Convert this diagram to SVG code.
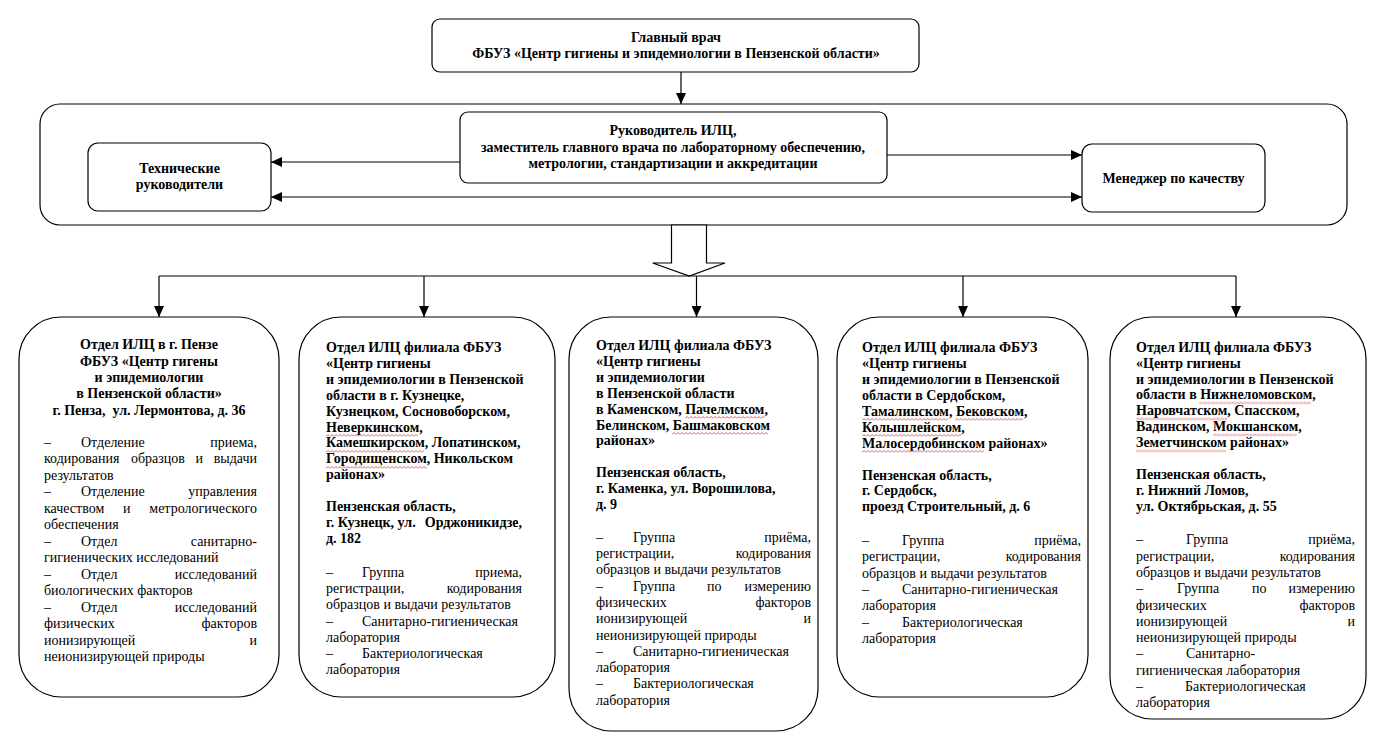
<svg xmlns="http://www.w3.org/2000/svg" width="1382" height="746" viewBox="0 0 1382 746">
<style>
.t{font-family:"Liberation Serif","Times New Roman",serif;font-size:14px;fill:#000}
.b{font-weight:bold}
.c{text-anchor:middle}
.e{text-anchor:end}
.box{fill:#fff;stroke:#000;stroke-width:1.2}
.ln{fill:none;stroke:#000;stroke-width:1.2}
.arr{marker-end:url(#ah)}
.bi{marker-start:url(#ah);marker-end:url(#ah)}
.sq{fill:url(#wv)}
</style>
<defs>
<marker id="ah" viewBox="0 0 11 10" refX="11" refY="5" markerWidth="11" markerHeight="10" markerUnits="userSpaceOnUse" orient="auto-start-reverse"><path d="M0,0 L11,5 L0,10 z" fill="#000"/></marker>
<pattern id="wv" width="4" height="3" patternUnits="userSpaceOnUse"><path d="M0,2.5 L2,0.5 L4,2.5" fill="none" stroke="#d23030" stroke-width="0.8"/></pattern>
</defs>
<rect width="1382" height="746" fill="#fff"/>

<g id="container">
<rect class="box" x="40" y="104" width="1307" height="121" rx="20"/>
</g>

<g id="connectors">
<path class="ln arr" d="M681,72 L681,104"/>
<path class="ln arr" d="M460,162 L271,162"/>
<path class="ln arr" d="M887,155 L1082,155"/>
<path class="ln bi" d="M271,197 L1082,197"/>
<polygon class="box" points="671.5,225 706.5,225 706.5,263 725,263 689.3,276 652.7,263 671.5,263"/>
<path class="ln" d="M159,276 L1236,276"/>
<path class="ln arr" d="M159,276 L159,317"/>
<path class="ln arr" d="M424,276 L424,317"/>
<path class="ln arr" d="M696.5,276 L696.5,317"/>
<path class="ln arr" d="M963,276 L963,317"/>
<path class="ln arr" d="M1236,276 L1236,317"/>
</g>

<g id="glavvrach">
<rect class="box" x="432" y="19" width="487" height="53" rx="8"/>
<text class="t b c" x="676" y="42">Главный врач</text>
<text class="t b c" x="676" y="58">ФБУЗ «Центр гигиены и эпидемиологии в Пензенской области»</text>
</g>

<g id="rukovoditel">
<rect class="box" x="460" y="112" width="427" height="71" rx="8"/>
<text class="t b c" x="673" y="135">Руководитель ИЛЦ,</text>
<text class="t b c" x="673" y="152">заместитель главного врача по лабораторному обеспечению,</text>
<text class="t b c" x="673" y="168">метрологии, стандартизации и аккредитации</text>
</g>

<g id="tech">
<rect class="box" x="88" y="143" width="183" height="68" rx="10"/>
<text class="t b c" x="179.5" y="173">Технические</text>
<text class="t b c" x="179.5" y="189">руководители</text>
</g>

<g id="manager">
<rect class="box" x="1082" y="144" width="183" height="68" rx="10"/>
<text class="t b c" x="1173.5" y="183">Менеджер по качеству</text>
</g>

<g id="otdel-penza">
<rect class="box" x="19" y="317" width="260" height="380" rx="42"/>
<text class="t b c" x="149" y="349">Отдел ИЛЦ в г. Пензе</text>
<text class="t b c" x="149" y="365.5">ФБУЗ «Центр гигены</text>
<text class="t b c" x="149" y="382">и эпидемиологии</text>
<text class="t b c" x="149" y="398">в Пензенской области»</text>
<text class="t b c" x="149" y="414.5" xml:space="preserve">г. Пенза,  ул. Лермонтова, д. 36</text>
<text class="t"><tspan x="44" y="446.5">–</tspan><tspan x="81" y="446.5">Отделение</tspan><tspan class="e" x="257" y="446.5">приема,</tspan></text>
<text class="t"><tspan x="44" y="463">кодирования</tspan><tspan x="131" y="463">образцов</tspan><tspan x="195.5" y="463">и</tspan><tspan class="e" x="257" y="463">выдачи</tspan></text>
<text class="t" x="44" y="479.5">результатов</text>
<text class="t"><tspan x="44" y="496">–</tspan><tspan x="81" y="496">Отделение</tspan><tspan class="e" x="257" y="496">управления</tspan></text>
<text class="t"><tspan x="44" y="512.5">качеством</tspan><tspan x="123" y="512.5">и</tspan><tspan class="e" x="257" y="512.5">метрологического</tspan></text>
<text class="t" x="44" y="529">обеспечения</text>
<text class="t"><tspan x="44" y="545.5">–</tspan><tspan x="81" y="545.5">Отдел</tspan><tspan class="e" x="257" y="545.5">санитарно-</tspan></text>
<text class="t" x="44" y="562">гигиенических исследований</text>
<text class="t"><tspan x="44" y="578.5">–</tspan><tspan x="81" y="578.5">Отдел</tspan><tspan class="e" x="257" y="578.5">исследований</tspan></text>
<text class="t" x="44" y="595">биологических факторов</text>
<text class="t"><tspan x="44" y="611.5">–</tspan><tspan x="81" y="611.5">Отдел</tspan><tspan class="e" x="257" y="611.5">исследований</tspan></text>
<text class="t"><tspan x="44" y="628">физических</tspan><tspan class="e" x="257" y="628">факторов</tspan></text>
<text class="t"><tspan x="44" y="644.6">ионизирующей</tspan><tspan class="e" x="257" y="644.6">и</tspan></text>
<text class="t" x="44" y="661.2">неионизирующей природы</text>
</g>

<g id="otdel-kuzneck">
<rect class="box" x="299" y="317" width="256" height="380" rx="42"/>
<text class="t b" x="326" y="352">Отдел ИЛЦ филиала ФБУЗ</text>
<text class="t b" x="326" y="367.9">«Центр гигиены</text>
<text class="t b" x="326" y="383.8">и эпидемиологии в Пензенской</text>
<text class="t b" x="326" y="399.7">области в г. Кузнецке,</text>
<text class="t b" x="326" y="415.6">Кузнецком, Сосновоборском,</text>
<text class="t b" x="326" y="431.5">Неверкинском,</text>
<text class="t b" x="326" y="447.4">Камешкирском, Лопатинском,</text>
<text class="t b" x="326" y="463.3">Городищенском, Никольском</text>
<text class="t b" x="326" y="479.2">районах»</text>
<text class="t b" x="326" y="511">Пензенская область,</text>
<text class="t b"><tspan x="326" y="526.9">г. Кузнецк, ул.</tspan><tspan class="e" x="522" y="526.9">Орджоникидзе,</tspan></text>
<text class="t b" x="326" y="542.8">д. 182</text>
<g transform="translate(326,434)"><rect class="sq" width="92" height="3"/></g>
<g transform="translate(326,450)"><rect class="sq" width="98" height="3"/></g>
<g transform="translate(326,466)"><rect class="sq" width="101" height="3"/></g>
<text class="t"><tspan x="326" y="577">–</tspan><tspan x="362" y="577">Группа</tspan><tspan class="e" x="522" y="577">приема,</tspan></text>
<text class="t"><tspan x="326" y="593.2">регистрации,</tspan><tspan class="e" x="522" y="593.2">кодирования</tspan></text>
<text class="t" x="326" y="609.4">образцов и выдачи результатов</text>
<text class="t"><tspan x="326" y="625.6">–</tspan><tspan x="362" y="625.6">Санитарно-гигиеническая</tspan></text>
<text class="t" x="326" y="641.8">лаборатория</text>
<text class="t"><tspan x="326" y="658">–</tspan><tspan x="362" y="658">Бактериологическая</tspan></text>
<text class="t" x="326" y="674.2">лаборатория</text>
</g>

<g id="otdel-kamenka">
<rect class="box" x="569" y="317" width="249" height="414" rx="42"/>
<text class="t b" x="596" y="350">Отдел ИЛЦ филиала ФБУЗ</text>
<text class="t b" x="596" y="365.9">«Центр гигиены</text>
<text class="t b" x="596" y="381.8">и эпидемиологии</text>
<text class="t b" x="596" y="397.7">в Пензенской области</text>
<text class="t b" x="596" y="413.6">в Каменском, Пачелмском,</text>
<text class="t b" x="596" y="429.5">Белинском, Башмаковском</text>
<text class="t b" x="596" y="445.4">районах»</text>
<text class="t b" x="596" y="477.2">Пензенская область,</text>
<text class="t b" x="596" y="493.1">г. Каменка, ул. Ворошилова,</text>
<text class="t b" x="596" y="509">д. 9</text>
<g transform="translate(685,416)"><rect class="sq" width="79" height="3"/></g>
<g transform="translate(672,432)"><rect class="sq" width="96" height="3"/></g>
<text class="t"><tspan x="596" y="541.7">–</tspan><tspan x="633" y="541.7">Группа</tspan><tspan class="e" x="811" y="541.7">приёма,</tspan></text>
<text class="t"><tspan x="596" y="558">регистрации,</tspan><tspan class="e" x="811" y="558">кодирования</tspan></text>
<text class="t" x="596" y="574.3">образцов и выдачи результатов</text>
<text class="t"><tspan x="596" y="590.6">–</tspan><tspan x="633" y="590.6">Группа</tspan><tspan x="707" y="590.6">по</tspan><tspan class="e" x="811" y="590.6">измерению</tspan></text>
<text class="t"><tspan x="596" y="606.9">физических</tspan><tspan class="e" x="811" y="606.9">факторов</tspan></text>
<text class="t"><tspan x="596" y="623.2">ионизирующей</tspan><tspan class="e" x="811" y="623.2">и</tspan></text>
<text class="t" x="596" y="639.5">неионизирующей природы</text>
<text class="t"><tspan x="596" y="655.8">–</tspan><tspan x="633" y="655.8">Санитарно-гигиеническая</tspan></text>
<text class="t" x="596" y="672.1">лаборатория</text>
<text class="t"><tspan x="596" y="688.4">–</tspan><tspan x="633" y="688.4">Бактериологическая</tspan></text>
<text class="t" x="596" y="704.7">лаборатория</text>
</g>

<g id="otdel-serdobsk">
<rect class="box" x="837" y="317" width="251" height="380" rx="42"/>
<text class="t b" x="862" y="352.3">Отдел ИЛЦ филиала ФБУЗ</text>
<text class="t b" x="862" y="368.2">«Центр гигиены</text>
<text class="t b" x="862" y="384.1">и эпидемиологии в Пензенской</text>
<text class="t b" x="862" y="400">области в Сердобском,</text>
<text class="t b" x="862" y="415.9">Тамалинском, Бековском,</text>
<text class="t b" x="862" y="431.8">Колышлейском,</text>
<text class="t b" x="862" y="447.7">Малосердобинском районах»</text>
<text class="t b" x="862" y="479.5">Пензенская область,</text>
<text class="t b" x="862" y="495.4">г. Сердобск,</text>
<text class="t b" x="862" y="511.3">проезд Строительный, д. 6</text>
<g transform="translate(862,418)"><rect class="sq" width="86" height="3"/></g>
<g transform="translate(955,418)"><rect class="sq" width="68" height="3"/></g>
<g transform="translate(862,434)"><rect class="sq" width="99" height="3"/></g>
<g transform="translate(862,450)"><rect class="sq" width="122" height="3"/></g>
<text class="t"><tspan x="862" y="545">–</tspan><tspan x="902" y="545">Группа</tspan><tspan class="e" x="1081" y="545">приёма,</tspan></text>
<text class="t"><tspan x="862" y="561.3">регистрации,</tspan><tspan class="e" x="1081" y="561.3">кодирования</tspan></text>
<text class="t" x="862" y="577.6">образцов и выдачи результатов</text>
<text class="t"><tspan x="862" y="593.9">–</tspan><tspan x="902" y="593.9">Санитарно-гигиеническая</tspan></text>
<text class="t" x="862" y="610.2">лаборатория</text>
<text class="t"><tspan x="862" y="626.5">–</tspan><tspan x="902" y="626.5">Бактериологическая</tspan></text>
<text class="t" x="862" y="642.8">лаборатория</text>
</g>

<g id="otdel-nlomov">
<rect class="box" x="1110" y="317" width="256" height="402" rx="42"/>
<text class="t b" x="1136" y="351.7">Отдел ИЛЦ филиала ФБУЗ</text>
<text class="t b" x="1136" y="367.6">«Центр гигиены</text>
<text class="t b" x="1136" y="383.5">и эпидемиологии в Пензенской</text>
<text class="t b" x="1136" y="399.4">области в Нижнеломовском,</text>
<text class="t b" x="1136" y="415.3">Наровчатском, Спасском,</text>
<text class="t b" x="1136" y="431.2">Вадинском, Мокшанском,</text>
<text class="t b" x="1136" y="447.1">Земетчинском районах»</text>
<text class="t b" x="1136" y="479">Пензенская область,</text>
<text class="t b" x="1136" y="494.9">г. Нижний Ломов,</text>
<text class="t b" x="1136" y="510.8">ул. Октябрьская, д. 55</text>
<g transform="translate(1199,401.5)"><rect class="sq" width="112" height="3"/></g>
<g transform="translate(1136,417.5)"><rect class="sq" width="91" height="3"/></g>
<g transform="translate(1213,433.5)"><rect class="sq" width="84" height="3"/></g>
<g transform="translate(1136,449.5)"><rect class="sq" width="90" height="3"/></g>
<text class="t"><tspan x="1136" y="544.3">–</tspan><tspan x="1186" y="544.3">Группа</tspan><tspan class="e" x="1355" y="544.3">приёма,</tspan></text>
<text class="t"><tspan x="1136" y="560.6">регистрации,</tspan><tspan class="e" x="1355" y="560.6">кодирования</tspan></text>
<text class="t" x="1136" y="576.9">образцов и выдачи результатов</text>
<text class="t"><tspan x="1136" y="593.2">–</tspan><tspan x="1177" y="593.2">Группа</tspan><tspan x="1252" y="593.2">по</tspan><tspan class="e" x="1355" y="593.2">измерению</tspan></text>
<text class="t"><tspan x="1136" y="609.5">физических</tspan><tspan class="e" x="1355" y="609.5">факторов</tspan></text>
<text class="t"><tspan x="1136" y="625.8">ионизирующей</tspan><tspan class="e" x="1355" y="625.8">и</tspan></text>
<text class="t" x="1136" y="642.1">неионизирующей природы</text>
<text class="t"><tspan x="1136" y="658.4">–</tspan><tspan x="1186" y="658.4">Санитарно-</tspan></text>
<text class="t" x="1136" y="674.7">гигиеническая лаборатория</text>
<text class="t"><tspan x="1136" y="691">–</tspan><tspan x="1185" y="691">Бактериологическая</tspan></text>
<text class="t" x="1136" y="707.3">лаборатория</text>
</g>
</svg>
